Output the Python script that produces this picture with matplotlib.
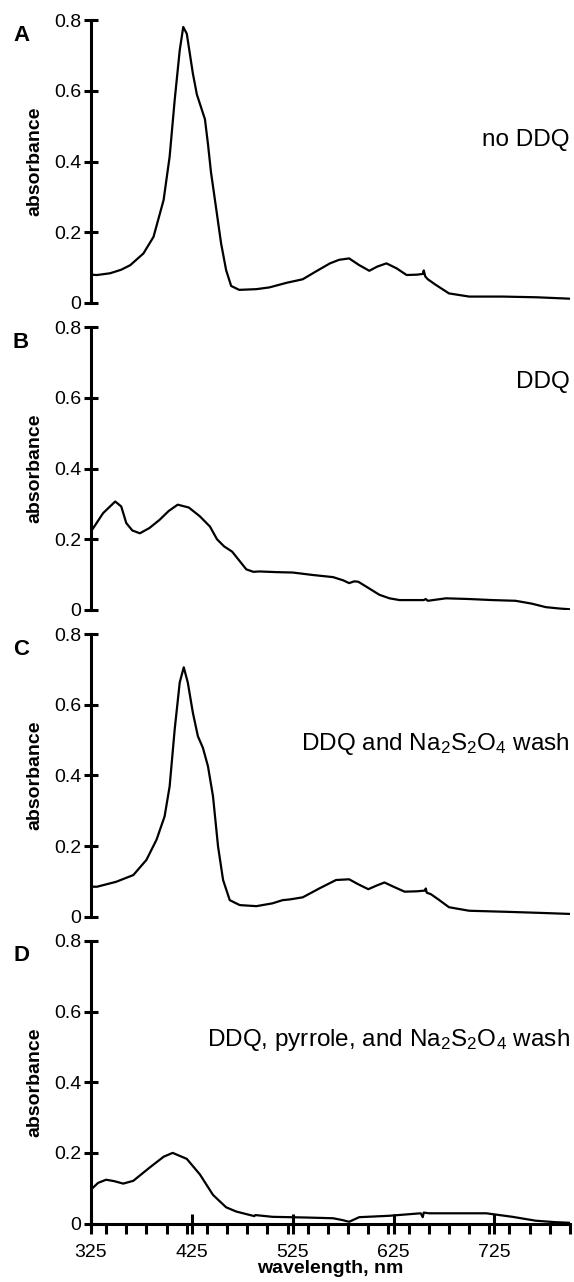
import numpy as np
import matplotlib.pyplot as plt
from matplotlib.ticker import MultipleLocator

plt.rcParams['font.family'] = ['Liberation Sans', 'DejaVu Sans']
plt.rcParams['mathtext.fontset'] = 'custom'
plt.rcParams['mathtext.rm'] = 'Liberation Sans'
plt.rcParams['mathtext.it'] = 'Liberation Sans:italic'
plt.rcParams['mathtext.bf'] = 'Liberation Sans:bold'

# spectra (wavelength nm, absorbance)
wl_a = [325, 331, 344, 355, 364, 377, 387, 397, 403, 408, 413, 416.5, 420, 426, 430, 434, 438,
        441, 444, 448, 454, 459, 464, 472, 489, 502, 519, 535, 548, 562, 571, 581, 591, 601,
        609, 618, 628, 638, 648, 654, 655, 656.5, 659, 667, 680, 700, 733, 767, 800]
abs_a = [0.080, 0.079, 0.084, 0.094, 0.107, 0.140, 0.187, 0.291, 0.414, 0.574, 0.715, 0.781,
         0.762, 0.650, 0.590, 0.555, 0.520, 0.450, 0.370, 0.290, 0.169, 0.093, 0.048, 0.037,
         0.039, 0.044, 0.057, 0.067, 0.089, 0.112, 0.122, 0.126, 0.107, 0.091, 0.103, 0.112,
         0.098, 0.079, 0.080, 0.082, 0.092, 0.075, 0.067, 0.051, 0.027, 0.018, 0.018, 0.016,
         0.012]

wl_b = [325, 337, 349, 355, 360, 366, 373.5, 383, 393, 402, 411, 422, 433, 443, 450, 457, 465,
        472, 479, 486, 492, 510, 525, 545, 565, 575, 581, 586, 590, 598, 611, 621, 631, 655,
        657, 659, 677, 700, 723, 746, 762, 776, 790, 800]
abs_b = [0.222, 0.274, 0.307, 0.293, 0.246, 0.225, 0.217, 0.232, 0.255, 0.280, 0.298, 0.290,
         0.265, 0.236, 0.200, 0.180, 0.165, 0.140, 0.115, 0.108, 0.109, 0.107, 0.106, 0.099,
         0.093, 0.084, 0.076, 0.081, 0.080, 0.066, 0.043, 0.033, 0.028, 0.028, 0.031, 0.026,
         0.033, 0.031, 0.028, 0.026, 0.018, 0.008, 0.004, 0.002]

wl_c = [325, 331, 350, 367, 380, 390, 398, 403, 408, 413, 417, 421, 426, 431, 436, 441, 446,
        451, 456, 462.6, 472.5, 489, 505, 515, 522, 535, 552, 568, 581, 590, 600, 608, 616,
        625, 636, 648, 656, 657, 658, 662, 670, 680, 700, 737, 770, 800]
abs_c = [0.085, 0.085, 0.099, 0.118, 0.161, 0.218, 0.284, 0.369, 0.530, 0.663, 0.706, 0.663,
         0.578, 0.511, 0.478, 0.426, 0.341, 0.199, 0.104, 0.047, 0.033, 0.030, 0.038, 0.047,
         0.049, 0.055, 0.081, 0.104, 0.106, 0.092, 0.078, 0.088, 0.097, 0.085, 0.071, 0.072,
         0.074, 0.080, 0.068, 0.064, 0.048, 0.027, 0.017, 0.014, 0.011, 0.008]

wl_d = [325, 332, 340, 348, 357, 367, 383, 397, 406, 420, 433, 446, 459, 469, 480, 487, 488,
        505, 539, 565, 574, 581, 591, 621, 652, 654, 655, 660, 687, 717, 743, 766, 785, 800]
abs_d = [0.096, 0.115, 0.124, 0.120, 0.113, 0.121, 0.158, 0.189, 0.200, 0.183, 0.139, 0.081,
         0.046, 0.034, 0.026, 0.021, 0.024, 0.019, 0.017, 0.015, 0.010, 0.005, 0.018, 0.022,
         0.029, 0.018, 0.031, 0.029, 0.029, 0.029, 0.019, 0.008, 0.004, 0.002]

letters = ['A', 'B', 'C', 'D']
notes = ['no DDQ', 'DDQ', r'DDQ and Na$_2$S$_2$O$_4$ wash',
         r'DDQ, pyrrole, and Na$_2$S$_2$O$_4$ wash']
note_y = [0.46, 0.644, 0.488, 0.52]
yticks = [0, 0.2, 0.4, 0.6, 0.8]
ytick_labels = ['0', '0.2', '0.4', '0.6', '0.8']
xticks = [325, 425, 525, 625, 725]

series = [(wl_a, abs_a), (wl_b, abs_b), (wl_c, abs_c), (wl_d, abs_d)]
bottoms = [0.7637, 0.5242, 0.2849, 0.0456]
height = 0.2205

fig = plt.figure(figsize=(5.74, 12.82), dpi=100)
for i, (wl, ab) in enumerate(series):
    ax = fig.add_axes([0.1585, bottoms[i], 0.8345, height])
    ax.plot(wl, ab, color='black', lw=1.6)
    ax.set_xlim(325, 800)
    ax.set_ylim(0, 0.8)
    for s in ['top', 'right']:
        ax.spines[s].set_visible(False)
    ax.spines['left'].set_linewidth(2.2)
    ax.set_yticks(yticks)
    ax.set_yticklabels(ytick_labels, fontsize=14)
    ax.tick_params(axis='y', direction='inout', length=10, width=2.2, pad=2)
    ax.set_ylabel('absorbance', fontsize=14, fontweight='bold', labelpad=8)
    fig.text(0.0366, bottoms[i] + height - 15 / 1282, letters[i], fontsize=16,
             fontweight='bold', ha='center', va='center')
    ax.text(800, note_y[i], notes[i], fontsize=17.5, ha='right', va='center')
    if i < 3:
        ax.spines['bottom'].set_visible(False)
        ax.set_xticks([])
    else:
        ax.spines['bottom'].set_linewidth(2.2)
        ax.set_xticks(xticks)
        ax.set_xticklabels([str(t) for t in xticks], fontsize=14)
        ax.xaxis.set_minor_locator(MultipleLocator(20))
        ax.tick_params(axis='x', which='major', direction='inout', length=14, width=2.2, pad=8)
        ax.tick_params(axis='x', which='minor', direction='out', length=7, width=2.2)
        ax.set_xlabel('wavelength, nm', fontsize=14, fontweight='bold', labelpad=-1)

fig.savefig('out.png', dpi=100)
